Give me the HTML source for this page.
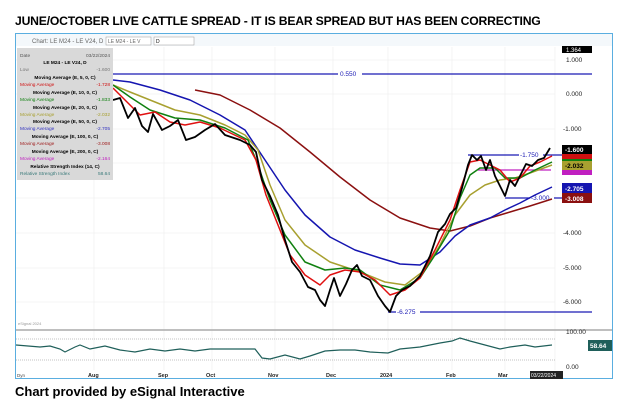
<!DOCTYPE html><html><head><style>
body{margin:0;width:631px;height:408px;background:#fff;font-family:"Liberation Sans",sans-serif;overflow:hidden;position:relative}
.t{position:absolute;left:15px;top:14px;font-weight:bold;font-size:12.2px;letter-spacing:-0.2px;white-space:nowrap}
.f{position:absolute;left:15px;top:384px;font-size:13px;font-weight:bold}
</style></head><body>
<div class="t">JUNE/OCTOBER LIVE CATTLE SPREAD -  IT IS BEAR SPREAD BUT HAS BEEN CORRECTING</div>
<svg style="position:absolute;left:0;top:0" width="631" height="408" font-family="Liberation Sans,sans-serif">
<rect x="15.5" y="33.5" width="597" height="345" fill="#fff" stroke="#5aaee0"/>
<rect x="16" y="34" width="596" height="12" fill="#f4f8fb"/>
<text x="32" y="43" font-size="6" fill="#666">Chart: LE M24 - LE V24, D</text>
<rect x="106" y="37" width="45" height="8" fill="#fff" stroke="#999" stroke-width=".5"/><text x="108" y="43" font-size="5" fill="#666">LE M24 - LE V</text>
<rect x="154" y="37" width="40" height="8" fill="#fff" stroke="#999" stroke-width=".5"/><text x="156" y="43" font-size="5">D</text>
<rect x="562" y="46" width="30" height="7" fill="#000"/><text x="566" y="52" font-size="6" fill="#fff">1.364</text>
<g stroke="#ececec" stroke-width=".6">
<line x1="16" y1="60" x2="555" y2="60"/><line x1="16" y1="94" x2="555" y2="94"/><line x1="16" y1="129" x2="555" y2="129"/><line x1="16" y1="163" x2="555" y2="163"/><line x1="16" y1="198" x2="555" y2="198"/><line x1="16" y1="233" x2="555" y2="233"/><line x1="16" y1="268" x2="555" y2="268"/><line x1="16" y1="302" x2="555" y2="302"/>
<line x1="94" y1="47" x2="94" y2="370"/><line x1="164" y1="47" x2="164" y2="370"/><line x1="212" y1="47" x2="212" y2="370"/><line x1="275" y1="47" x2="275" y2="370"/><line x1="333" y1="47" x2="333" y2="370"/><line x1="388" y1="47" x2="388" y2="370"/><line x1="452" y1="47" x2="452" y2="370"/><line x1="505" y1="47" x2="505" y2="370"/><line x1="555" y1="47" x2="555" y2="370"/>
</g>
<g font-size="6.5" fill="#222"><text x="566" y="62">1.000</text><text x="566" y="96">0.000</text><text x="563" y="131">-1.000</text><text x="563" y="235">-4.000</text><text x="563" y="270">-5.000</text><text x="563" y="304">-6.000</text></g>
<line x1="16" y1="330" x2="612" y2="330" stroke="#aaa" stroke-width="1.5"/>
<text x="18" y="325" font-size="4" fill="#999">eSignal 2024</text>
<g stroke="#1a1ab4" stroke-width="1.3">
<line x1="113" y1="74" x2="592" y2="74"/><line x1="468" y1="155" x2="592" y2="155"/><line x1="505" y1="198" x2="592" y2="198"/><line x1="388" y1="312" x2="592" y2="312"/></g>
<line x1="478" y1="170" x2="551" y2="170" stroke="#c020c0" stroke-width="1.3"/>
<g font-size="6.5" fill="#1a1ab4"><rect x="338" y="70" width="24" height="8" fill="#fff"/><text x="340" y="76">0.550</text>
<rect x="519" y="151" width="24" height="7" fill="#fff"/><text x="520" y="157">-1.750</text>
<rect x="530" y="194" width="24" height="7" fill="#fff"/><text x="531" y="200">-3.000</text>
<rect x="396" y="308" width="24" height="7" fill="#fff"/><text x="397" y="314">-6.275</text></g>
<g fill="none" stroke-width="1.5" stroke-linejoin="round">
<polyline stroke="#8b1010" points="195,90 220,95 250,110 280,128 310,152 340,177 370,200 400,218 430,228 450,231 470,226 490,218 510,212 530,206 552,199"/>
<polyline stroke="#1515b0" points="113,80 130,82 160,90 190,100 220,115 245,130 265,160 285,190 305,215 330,237 355,250 380,258 400,264 420,265 440,252 455,236 470,225 490,218 505,210 520,203 535,195 552,187"/>
<polyline stroke="#a8a030" points="113,85 130,92 150,100 175,110 200,115 225,125 245,135 258,150 270,185 285,220 305,245 330,262 360,272 385,282 405,285 425,270 440,245 455,215 470,195 485,185 500,180 515,178 530,173 552,165"/>
<polyline stroke="#108010" points="113,85 130,97 150,110 175,118 200,120 225,128 248,140 258,165 270,200 285,235 305,262 325,270 345,268 360,270 380,285 400,290 420,278 435,255 450,230 460,198 470,175 480,168 495,168 505,178 520,178 535,170 552,162"/>
<polyline stroke="#e01010" points="113,88 125,100 140,115 155,112 170,122 185,125 200,122 220,128 245,140 256,160 266,195 278,225 290,255 305,275 320,285 330,275 345,270 360,272 375,280 390,295 405,290 420,278 435,250 450,220 460,190 470,162 480,160 490,165 500,170 510,182 520,178 530,166 540,162 552,156"/>
<polyline stroke="#000" stroke-width="1.8" points="113,100 120,98 128,118 135,108 142,126 148,132 153,114 162,130 170,126 178,120 186,140 195,137 205,130 215,124 225,135 240,140 250,145 256,152 262,180 270,196 278,215 285,240 292,262 300,272 308,287 315,290 320,300 325,306 330,290 334,278 340,296 346,284 352,270 357,265 362,276 370,280 378,296 385,306 390,312 396,296 402,290 410,286 420,276 430,256 438,232 445,224 450,214 456,208 462,188 468,165 472,155 477,160 481,156 486,170 490,160 495,176 500,186 505,196 510,180 515,186 520,176 526,164 532,166 538,160 544,158 550,148"/>
</g>
<g font-size="6.5" font-weight="bold">
<rect x="562" y="145" width="30" height="9" fill="#000"/><text x="565" y="152" fill="#fff">-1.600</text>
<rect x="562" y="154" width="30" height="5" fill="#d01010"/>
<rect x="562" y="159" width="30" height="5" fill="#108010"/>
<rect x="562" y="161" width="30" height="9" fill="#a8a030"/><text x="565" y="168" fill="#000">-2.032</text>
<rect x="562" y="170" width="30" height="5" fill="#c020c0"/>
<rect x="562" y="183" width="30" height="10" fill="#1515b0"/><text x="565" y="191" fill="#fff">-2.705</text>
<rect x="562" y="193" width="30" height="10" fill="#8b1010"/><text x="565" y="201" fill="#fff">-3.008</text>
</g>
<line x1="16" y1="339" x2="555" y2="339" stroke="#888" stroke-dasharray="1,1" stroke-width=".6"/>
<line x1="16" y1="360" x2="555" y2="360" stroke="#888" stroke-dasharray="1,1" stroke-width=".6"/>
<polyline fill="none" stroke="#1f5f5a" stroke-width="1.2" points="16,345 40,347 50,346 60,349 65,352 75,347 80,345 90,349 105,346 120,350 135,352 150,349 165,351 180,349 195,351 210,349 225,349 240,349 255,349 262,358 270,359 285,355 300,359 310,356 325,351 340,350 355,350 370,352 388,353 400,349 420,347 440,343 452,341 460,338 470,341 485,345 500,349 510,347 525,345 535,347 552,345"/>
<g font-size="6.5" fill="#222"><text x="566" y="334">100.00</text><text x="566" y="369">0.00</text></g>
<rect x="588" y="340" width="24" height="11" fill="#1f5f5a"/><text x="590" y="348" font-size="6.5" fill="#fff" font-weight="bold">58.64</text>
<g font-size="5.5" font-weight="bold" fill="#222"><text x="88" y="377">Aug</text><text x="158" y="377">Sep</text><text x="206" y="377">Oct</text><text x="268" y="377">Nov</text><text x="326" y="377">Dec</text><text x="380" y="377">2024</text><text x="446" y="377">Feb</text><text x="498" y="377">Mar</text></g>
<rect x="530" y="371" width="33" height="8" fill="#222"/><text x="531" y="377" font-size="5" fill="#fff">03/22/2024</text>
<text x="17" y="377" font-size="4.5" fill="#444">Dyn</text>
<rect x="17" y="48" width="96" height="132" fill="#d9d9d9"/>
<g font-size="4.8" text-anchor="middle" fill="#000" font-weight="bold">
<text x="65" y="64">LE M24 - LE V24, D</text><text x="65" y="79">Moving Average (E, 5, 0, C)</text><text x="65" y="94">Moving Average (E, 10, 0, C)</text><text x="65" y="109">Moving Average (E, 20, 0, C)</text><text x="65" y="123">Moving Average (E, 50, 0, C)</text><text x="65" y="138">Moving Average (E, 100, 0, C)</text><text x="65" y="153">Moving Average (E, 200, 0, C)</text><text x="65" y="168">Relative Strength Index (14, C)</text></g>
<g font-size="4.8"><text x="20" y="57" fill="#555">Date</text><text x="110" y="57" text-anchor="end" fill="#555">03/22/2024</text>
<text x="20" y="71" fill="#777">Low</text><text x="110" y="71" text-anchor="end" fill="#777">-1.600</text>
<text x="20" y="86" fill="#d01010">Moving Average</text><text x="110" y="86" text-anchor="end" fill="#d01010">-1.728</text>
<text x="20" y="101" fill="#108010">Moving Average</text><text x="110" y="101" text-anchor="end" fill="#108010">-1.833</text>
<text x="20" y="116" fill="#a8a030">Moving Average</text><text x="110" y="116" text-anchor="end" fill="#a8a030">-2.032</text>
<text x="20" y="130" fill="#3030c0">Moving Average</text><text x="110" y="130" text-anchor="end" fill="#3030c0">-2.705</text>
<text x="20" y="145" fill="#a02020">Moving Average</text><text x="110" y="145" text-anchor="end" fill="#a02020">-3.008</text>
<text x="20" y="160" fill="#c020c0">Moving Average</text><text x="110" y="160" text-anchor="end" fill="#c020c0">-2.164</text>
<text x="20" y="175" fill="#3a7a7a">Relative Strength Index</text><text x="110" y="175" text-anchor="end" fill="#3a7a7a">58.64</text></g>
</svg>
<div class="f">Chart provided by eSignal Interactive</div>
</body></html>
